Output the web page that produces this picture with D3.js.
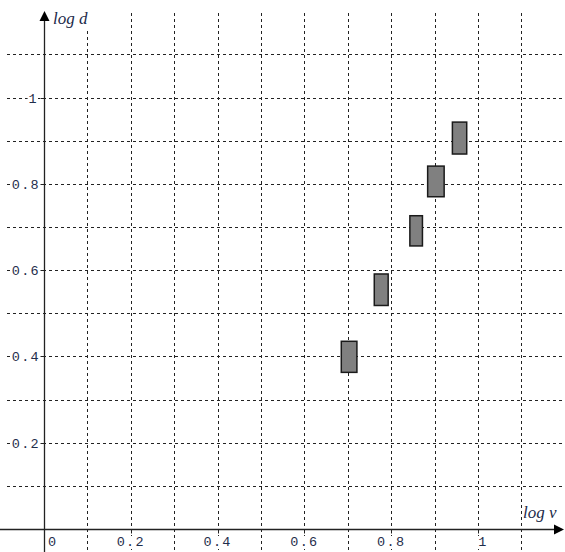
<!DOCTYPE html>
<html>
<head>
<meta charset="utf-8">
<script src="https://cdn.jsdelivr.net/npm/d3@7"></script>
<style>
  body { margin: 0; background: #fff; }
  .grid line { stroke: #222; stroke-dasharray: 3,3; shape-rendering: crispEdges; }
  .tick-label { font-family: "Liberation Mono", monospace; font-size: 13.5px; fill: #1f2e4c; letter-spacing: 1.3px; }
  .axis-title { font-family: "Liberation Serif", serif; font-style: italic; font-size: 17px; fill: #1c2a4a; }
</style>
</head>
<body>
<svg id="chart" width="565" height="552"></svg>
<script>
// grid / tick values
const gridVals = [0.1, 0.2, 0.3, 0.4, 0.5, 0.6, 0.7, 0.8, 0.9, 1.0, 1.1];
const xTicks = [0, 0.2, 0.4, 0.6, 0.8, 1];
const xTickLabels = ["0", "0.2", "0.4", "0.6", "0.8", "1"];
const yTicks = [0.2, 0.4, 0.6, 0.8, 1];
const yTickLabels = ["0.2", "0.4", "0.6", "0.8", "1"];

// boxes: log v range and log d range
const boxX0 = [0.685, 0.761, 0.843, 0.884, 0.941];
const boxX1 = [0.721, 0.793, 0.872, 0.922, 0.974];
const boxY0 = [0.363, 0.518, 0.656, 0.770, 0.869];
const boxY1 = [0.435, 0.591, 0.726, 0.841, 0.943];

const W = 565, H = 552;
const svg = d3.select("#chart");

const x = d3.scaleLinear().domain([0, 1]).range([44, 478]);
const y = d3.scaleLinear().domain([0, 1]).range([529, 97.5]);
const x0 = x(0), y0 = y(0);
const crisp = v => Math.round(v) + 0.5;

/* Grid */
const grid = svg.append("g").attr("class", "grid");
grid.selectAll(".gv").data(gridVals).enter().append("line")
    .attr("x1", d => crisp(x(d))).attr("x2", d => crisp(x(d)))
    .attr("y1", 13).attr("y2", H);
grid.selectAll(".gh").data(gridVals).enter().append("line")
    .attr("x1", 7).attr("x2", W)
    .attr("y1", d => crisp(y(d))).attr("y2", d => crisp(y(d)));

/* Boxes */
svg.selectAll(".box").data(boxX0).enter().append("rect")
    .attr("class", "box")
    .attr("x", (d, i) => x(boxX0[i]))
    .attr("width", (d, i) => x(boxX1[i]) - x(boxX0[i]))
    .attr("y", (d, i) => y(boxY1[i]))
    .attr("height", (d, i) => y(boxY0[i]) - y(boxY1[i]))
    .attr("fill", "#808080")
    .attr("stroke", "#1a1a1a")
    .attr("stroke-width", 1.5);

/* Axes */
const axisColor = "#222";
svg.append("line")
    .attr("x1", 0).attr("x2", W - 8)
    .attr("y1", crisp(y0)).attr("y2", crisp(y0))
    .attr("stroke", axisColor).attr("stroke-width", 1.3);
svg.append("path")
    .attr("d", `M${W - 1},${crisp(y0)} L${W - 11},${crisp(y0) - 5} L${W - 11},${crisp(y0) + 5} Z`)
    .attr("fill", "#000");
svg.append("line")
    .attr("x1", crisp(x0)).attr("x2", crisp(x0))
    .attr("y1", H).attr("y2", 20)
    .attr("stroke", axisColor).attr("stroke-width", 1.3);
svg.append("path")
    .attr("d", `M${crisp(x0)},11 L${crisp(x0) - 5},21 L${crisp(x0) + 5},21 Z`)
    .attr("fill", "#000");

/* Tick marks */
svg.selectAll(".xt").data(xTicks.filter(d => d > 0)).enter().append("line")
    .attr("x1", d => crisp(x(d))).attr("x2", d => crisp(x(d)))
    .attr("y1", crisp(y0)).attr("y2", crisp(y0) + 4)
    .attr("stroke", axisColor);
svg.selectAll(".yt").data(yTicks).enter().append("line")
    .attr("x1", crisp(x0) - 4).attr("x2", crisp(x0))
    .attr("y1", d => crisp(y(d))).attr("y2", d => crisp(y(d)))
    .attr("stroke", axisColor);

/* Tick labels with white backing */
const xl = svg.selectAll(".xl").data(xTicks).enter().append("g")
    .attr("transform", (d, i) => d === 0
        ? `translate(${x0 + 4},${y0 + 17})`
        : `translate(${x(d) + (xTickLabels[i].length === 1 ? 5 : 0)},${y0 + 17})`);
xl.append("rect")
    .attr("x", (d, i) => d === 0 ? -1 : -xTickLabels[i].length * 4.7 - 1)
    .attr("y", -10).attr("height", 13)
    .attr("width", (d, i) => xTickLabels[i].length * 9.4 + 2)
    .attr("fill", "#fff");
xl.append("text").attr("class", "tick-label")
    .attr("text-anchor", d => d === 0 ? "start" : "middle")
    .text((d, i) => xTickLabels[i]);

const yl = svg.selectAll(".yl").data(yTicks).enter().append("g")
    .attr("transform", (d, i) => `translate(${x0 - 4 - (yTickLabels[i].length === 1 ? 2 : 0)},${y(d) + 5})`);
yl.append("rect")
    .attr("x", (d, i) => -yTickLabels[i].length * 9.4 - 1)
    .attr("y", -11).attr("height", 13)
    .attr("width", (d, i) => yTickLabels[i].length * 9.4 + 1)
    .attr("fill", "#fff");
yl.append("text").attr("class", "tick-label")
    .attr("text-anchor", "end")
    .text((d, i) => yTickLabels[i]);

/* Axis titles */
svg.append("rect").attr("x", 52).attr("y", 8).attr("width", 41).attr("height", 22).attr("fill", "#fff");
svg.append("text").attr("class", "axis-title")
    .attr("x", 53).attr("y", 24).text("log d");
svg.append("text").attr("class", "axis-title")
    .attr("x", 523).attr("y", 518).text("log v");
</script>
</body>
</html>
